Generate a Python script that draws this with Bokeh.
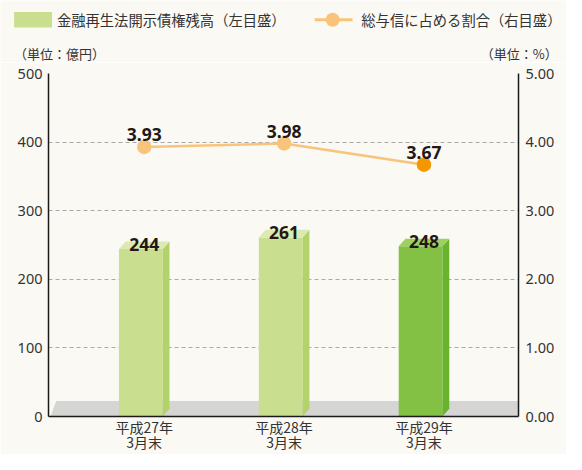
from bokeh.plotting import figure
from bokeh.layouts import column
from bokeh.models import (Range1d, LinearAxis, FixedTicker, ColumnDataSource,
                          PrintfTickFormatter)
from bokeh.core.properties import value
from bokeh.embed import file_html
from bokeh.resources import INLINE

# ---------------- data ----------------
categories = ["平成27年\n3月末", "平成28年\n3月末", "平成29年\n3月末"]
npl_amounts = [244, 261, 248]          # 金融再生法開示債権残高 (億円)
npl_ratios = [3.93, 3.98, 3.67]        # 総与信に占める割合 (%)
left_ticks = [0, 100, 200, 300, 400, 500]
right_ticks = [0, 1, 2, 3, 4, 5]
legend_bar = "金融再生法開示債権残高（左目盛）"
legend_line = "総与信に占める割合（右目盛）"
unit_left = "（単位：億円）"
unit_right = "（単位：%）"

# ---------------- layout ----------------
W, H = 566, 454
SX, SY = W / 582, H / 470          # reference-pixel -> figure-pixel scale
TOP_H = 62                         # header strip (legend + unit captions)
MH = H - TOP_H                     # main chart height
FL, FR = round(49 * SX), round(533 * SX)
FT, FB = round(76 * SY) - TOP_H, round(432 * SY) - TOP_H
X0, X1 = -0.66, 2.70
Y0, Y1 = 0, 500
px_x = (FR - FL) / (X1 - X0)
px_y = (FB - FT) / (Y1 - Y0)

BG = "#fbf9f4"
TXT = "#333333"
CJK = "Noto Sans CJK JP"
NUM = "Noto Sans"

front_cols = ["#c9df8f", "#c9df8f", "#82c143"]
top_cols = ["#dbeab0", "#dbeab0", "#9dd05f"]
side_cols = ["#b2d36c", "#b2d36c", "#69b42e"]
line_col = "#f8c47c"
mark_cols = ["#f8c47c", "#f8c47c", "#f39800"]

# ---------------- header (legend + units) ----------------
hd = figure(width=W, height=TOP_H, x_range=Range1d(0, W), y_range=Range1d(TOP_H, 0),
            output_backend="svg", toolbar_location=None,
            x_axis_location=None, y_axis_location=None,
            min_border=0, min_border_left=0, min_border_right=0,
            min_border_top=0, min_border_bottom=0)
hd.frame_align = False
hd.grid.visible = False
hd.outline_line_color = None
hd.background_fill_color = BG
hd.border_fill_color = BG

hd.quad(left=[14 * SX], right=[53 * SX], top=[12 * SY], bottom=[28 * SY],
        fill_color=front_cols[0], line_color=None)
hd.line(x=[323 * SX, 362 * SX], y=[20 * SY, 20 * SY], line_color=line_col, line_width=3)
hd.scatter(x=[341.5 * SX], y=[20 * SY], size=14, fill_color=line_col, line_color=None)
hd.text(x=[58 * SX, 371 * SX], y=[20 * SY, 20 * SY], text=[legend_bar, legend_line],
        text_baseline="middle", text_font=value(CJK), text_font_size="14.3px",
        text_color=TXT)
hd.text(x=[14 * SX], y=[55 * SY], text=[unit_left], text_baseline="middle",
        text_font=value(CJK), text_font_size="13px", text_color=TXT)
hd.text(x=[573 * SX], y=[55 * SY], text=[unit_right], text_baseline="middle",
        text_align="right", text_font=value(CJK), text_font_size="13px", text_color=TXT)

# ---------------- main chart ----------------
p = figure(width=W, height=MH, x_range=Range1d(X0, X1), y_range=Range1d(Y0, Y1),
           output_backend="svg", toolbar_location=None,
           min_border_left=FL, min_border_right=W - FR,
           min_border_top=FT, min_border_bottom=MH - FB)
p.frame_align = False
p.background_fill_color = BG
p.border_fill_color = BG
p.outline_line_color = None
p.extra_y_ranges = {"pct": Range1d(right_ticks[0], right_ticks[-1])}

p.xgrid.visible = False
p.ygrid.ticker = FixedTicker(ticks=left_ticks)
p.ygrid.grid_line_color = "#a9a9a9"
p.ygrid.grid_line_dash = "4 3"
p.ygrid.grid_line_width = 1

idx = list(range(len(categories)))
w = 45 * SX / px_x
dxu = 7 * SX / px_x
dyu = 8 * SY / px_y

# floor (grey base plate)
fl_dx = 6 * SX / px_x
fl_h = 16 * SY / px_y
fx0 = X0 + 2 * SX / px_x
fx1 = X1 + 8 * SX / px_x
p.patch(x=[fx0, fx0 + fl_dx, fx1, fx1 - fl_dx], y=[0, fl_h, fl_h, 0],
        fill_color="#d5d5d3", line_color=None)

# 3D bars
src = ColumnDataSource(dict(x=idx, top=npl_amounts, color=front_cols))
p.vbar(x="x", top="top", bottom=0, width=w, source=src,
       fill_color="color", line_color=None)
side_xs = [[i + w / 2, i + w / 2 + dxu, i + w / 2 + dxu, i + w / 2] for i in idx]
side_ys = [[0, dyu, v + dyu, v] for v in npl_amounts]
p.patches(xs=side_xs, ys=side_ys, fill_color=side_cols, line_color=None)
top_xs = [[i - w / 2, i - w / 2 + dxu, i + w / 2 + dxu, i + w / 2] for i in idx]
top_ys = [[v, v + dyu, v + dyu, v] for v in npl_amounts]
p.patches(xs=top_xs, ys=top_ys, fill_color=top_cols, line_color=None)

cx = [i + dxu / 2 for i in idx]
p.text(x=cx, y=npl_amounts, text=[str(v) for v in npl_amounts],
       text_align="center", text_baseline="alphabetic", y_offset=-5,
       text_font=value(NUM), text_font_style="bold", text_font_size="17.5px",
       text_color="#231815")

# line
p.line(x=cx, y=npl_ratios, y_range_name="pct", line_color=line_col, line_width=2.5)
p.scatter(x=cx, y=npl_ratios, y_range_name="pct", size=14.5,
          fill_color=mark_cols, line_color=None)
p.text(x=cx, y=npl_ratios, y_range_name="pct", text=[f"{v:.2f}" for v in npl_ratios],
       text_align="center", text_baseline="alphabetic", y_offset=-12,
       text_font=value(NUM), text_font_style="bold", text_font_size="17.5px",
       text_color="#231815")


def style_axis(ax, standoff, font, size):
    ax.axis_line_color = "#1a1a1a"
    ax.axis_line_width = 1.5
    ax.major_tick_line_color = None
    ax.minor_tick_line_color = None
    ax.major_tick_in = 0
    ax.major_tick_out = 0
    ax.major_label_standoff = standoff
    ax.major_label_text_font = font
    ax.major_label_text_font_size = size
    ax.major_label_text_color = TXT


ya = p.yaxis[0]
ya.ticker = FixedTicker(ticks=left_ticks)
style_axis(ya, 6, NUM, "14.5px")

ra = LinearAxis(y_range_name="pct", ticker=FixedTicker(ticks=right_ticks),
                formatter=PrintfTickFormatter(format="%.2f"))
style_axis(ra, 7, NUM, "14.5px")
p.add_layout(ra, "right")

xa = p.xaxis[0]
xa.ticker = FixedTicker(ticks=cx)
xa.major_label_overrides = {c: lab for c, lab in zip(cx, categories)}
style_axis(xa, 0, CJK, "14px")
xa.major_label_text_line_height = 0.76

layout = column(hd, p, spacing=0)
open("out.html", "w").write(file_html(layout, INLINE))
